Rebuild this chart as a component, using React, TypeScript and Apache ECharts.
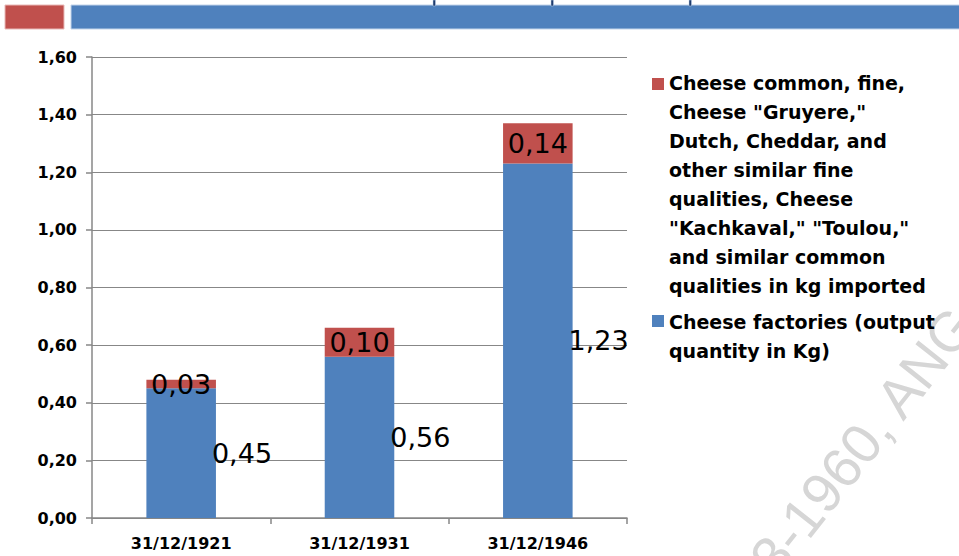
import React, { useEffect, useRef } from "react";
import * as echarts from "echarts";

const categories = ["31/12/1921", "31/12/1931", "31/12/1946"];
const factoriesValues = [0.45, 0.56, 1.23];
const importedValues = [0.03, 0.1, 0.14];
const yMin = 0;
const yMax = 1.6;
const yInterval = 0.2;

const importedName =
  'Cheese common, fine, Cheese "Gruyere," Dutch, Cheddar, and other similar fine qualities, Cheese "Kachkaval," "Toulou," and similar common qualities in kg imported';
const factoriesName = "Cheese factories (output quantity in Kg)";
const importedLegendLines = [
  "Cheese common, fine,",
  'Cheese "Gruyere,"',
  "Dutch, Cheddar, and",
  "other similar fine",
  "qualities, Cheese",
  '"Kachkaval," "Toulou,"',
  "and similar common",
  "qualities in kg imported",
];
const factoriesLegendLines = ["Cheese factories (output", "quantity in Kg)"];
const watermarkText = "3-1960, ANG";

const RED = "#C0504D";
const BLUE = "#4F81BD";
const LINE_H = 29;
const SQ = 12;

const fmt = (v: number) => v.toFixed(2).replace(".", ",");

function iconPath(h: number, sqTop: number) {
  return `path://M0,0h0.01v0.01h-0.01z M0,${sqTop}h${SQ}v${SQ}h-${SQ}z M0,${h - 0.01}h0.01v0.01h-0.01z`;
}

export default function App() {
  const ref = useRef<HTMLDivElement>(null);
  useEffect(() => {
    if (!ref.current) return;
    const chart = echarts.init(ref.current, null, { renderer: "svg" });
    const redH = importedLegendLines.length * LINE_H;
    const blueH = factoriesLegendLines.length * LINE_H;
    const legendText = {
      fontFamily: "DejaVu Sans",
      fontWeight: "bold" as const,
      fontSize: 19,
      lineHeight: LINE_H,
      color: "#000",
    };
    chart.setOption({
      animation: false,
      backgroundColor: "#fff",
      grid: { left: 92, right: 332, top: 57, bottom: 38, containLabel: false },
      legend: [
        {
          data: [importedName],
          orient: "vertical",
          left: 652,
          top: 68,
          padding: 0,
          itemWidth: SQ,
          itemHeight: redH,
          itemGap: 0,
          icon: iconPath(redH, 10),
          textStyle: legendText,
          selectedMode: false,
          formatter: () => importedLegendLines.join("\n"),
        },
        {
          data: [factoriesName],
          orient: "vertical",
          left: 652,
          top: 307,
          padding: 0,
          itemWidth: SQ,
          itemHeight: blueH,
          itemGap: 0,
          icon: iconPath(blueH, 8),
          textStyle: legendText,
          selectedMode: false,
          formatter: () => factoriesLegendLines.join("\n"),
        },
      ],
      xAxis: {
        type: "category",
        data: categories,
        axisLine: { show: true, lineStyle: { color: "#878787", width: 1.5 } },
        axisTick: { show: true, length: 6, lineStyle: { color: "#878787", width: 1.5 } },
        axisLabel: {
          margin: 17,
          fontFamily: "DejaVu Sans",
          fontWeight: "bold",
          fontSize: 16,
          color: "#000",
        },
      },
      yAxis: {
        type: "value",
        min: yMin,
        max: yMax,
        interval: yInterval,
        axisLine: { show: true, lineStyle: { color: "#878787", width: 1.5 } },
        axisTick: { show: true, length: 6, lineStyle: { color: "#878787", width: 1.5 } },
        splitLine: { show: true, lineStyle: { color: "#878787", width: 1 } },
        axisLabel: {
          margin: 15,
          formatter: (v: number) => fmt(v),
          fontFamily: "DejaVu Sans",
          fontWeight: "bold",
          fontSize: 16,
          color: "#000",
        },
      },
      series: [
        {
          name: factoriesName,
          type: "bar",
          stack: "total",
          barWidth: "39%",
          data: factoriesValues,
          itemStyle: { color: BLUE },
          label: {
            show: true,
            position: "right",
            distance: 0,
            offset: [-4, 0],
            formatter: (p: any) => fmt(p.value),
            fontFamily: "DejaVu Sans",
            fontSize: 27,
            color: "#000",
          },
        },
        {
          name: importedName,
          type: "bar",
          stack: "total",
          barWidth: "39%",
          data: importedValues,
          itemStyle: { color: RED },
          label: {
            show: true,
            position: "inside",
            formatter: (p: any) => fmt(p.value),
            fontFamily: "DejaVu Sans",
            fontSize: 27,
            color: "#000",
          },
        },
      ],
      graphic: [
        {
          type: "rect",
          shape: { x: 5, y: 5, width: 59, height: 24 },
          style: { fill: RED, stroke: "#e8b9b8", lineWidth: 1 },
        },
        {
          type: "rect",
          shape: { x: 71, y: 5, width: 900, height: 24 },
          style: { fill: BLUE, stroke: "#c3d4ea", lineWidth: 1 },
        },
        ...[434, 552, 690].map((x) => ({
          type: "rect",
          shape: { x: x - 1, y: 0, width: 2.5, height: 6 },
          style: { fill: "#1F3C6E", stroke: "#bcd0ea", lineWidth: 0.5 },
        })),
        {
          type: "text",
          x: 762,
          y: 568,
          rotation: 0.899,
          z: -1,
          style: {
            text: watermarkText,
            font: '56px "Liberation Sans"',
            fill: "#d6d6d6",
            align: "left",
            verticalAlign: "middle",
          },
        },
      ],
    });
    return () => chart.dispose();
  }, []);
  return (
    <div
      ref={ref}
      style={{ position: "fixed", left: 0, top: 0, width: 959, height: 556 }}
    />
  );
}
